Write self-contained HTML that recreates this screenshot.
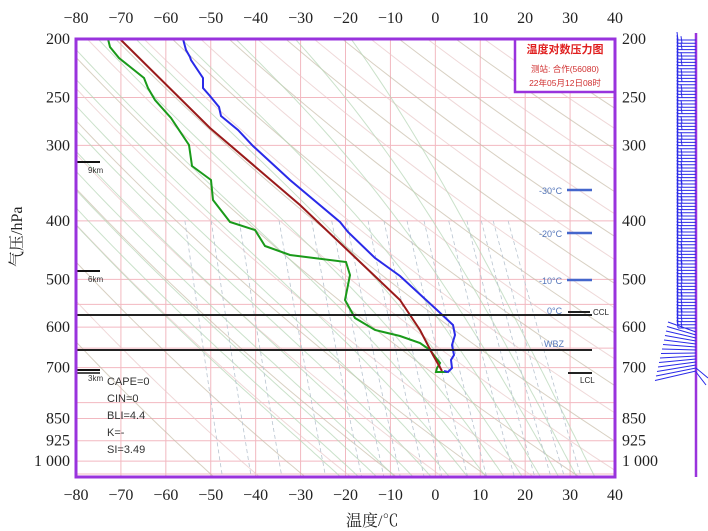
<!DOCTYPE html>
<html><head><meta charset="utf-8"><style>
html,body{margin:0;padding:0;background:#fff;}
svg{display:block;font-family:"Liberation Serif","Noto Serif CJK SC",serif;}
</style></head><body>
<svg id="s" width="708" height="531" viewBox="0 0 708 531" xmlns="http://www.w3.org/2000/svg">
<defs><clipPath id="cp"><rect x="76" y="39" width="539" height="438"/></clipPath></defs>
<rect width="708" height="531" fill="#fff"/>
<g id="grid"></g>
<g id="adi" clip-path="url(#cp)"></g>
<polyline fill="none" stroke="#1a9a1a" stroke-width="2" points="108,39 110,47 119,58 144,78 148,88 155,100 171,118 189,145 192,166 211,180 213,200 230,222 255,230 265,246 290,255 346,262 350,275 345,300 355,318 375,330 400,336 420,343 430,350 436,358 440,363 437,368 436,372 447,372"/>
<polyline fill="none" stroke="#9a1a1a" stroke-width="2" points="120,39 210,128 300,205 360,262 400,300 420,330 433,355 442,371"/>
<polyline fill="none" stroke="#2a2ae8" stroke-width="2" points="183,39 186,50 190,57 191,60 203,78 203,88 210,96 219,107 221,116 238,130 253,146 290,180 340,222 348,232 375,258 400,276 437,310 453,325 455,335 452,345 454,355 451,360 452,368 448,372 444,371"/>
<line x1="76" y1="315" x2="592" y2="315" stroke="#222" stroke-width="2"/>
<line x1="76" y1="350" x2="592" y2="350" stroke="#222" stroke-width="2"/>
<line x1="76" y1="162" x2="100" y2="162" stroke="#111" stroke-width="2"/>
<line x1="76" y1="271" x2="100" y2="271" stroke="#111" stroke-width="2"/>
<line x1="76" y1="370" x2="100" y2="370" stroke="#111" stroke-width="2"/>
<line x1="76" y1="373" x2="100" y2="373" stroke="#111" stroke-width="1.5"/>
<g font-family="Liberation Sans,sans-serif" font-size="8" fill="#333">
<text x="88" y="173">9km</text><text x="88" y="282">6km</text><text x="88" y="381">3km</text>
</g>
<g font-family="Liberation Sans,sans-serif" font-size="11" fill="#333">
<text x="107" y="385">CAPE=0</text><text x="107" y="402">CIN=0</text><text x="107" y="419">BLI=4.4</text><text x="107" y="436">K=-</text><text x="107" y="453">SI=3.49</text>
</g>
<g font-family="Liberation Sans,sans-serif" font-size="9" fill="#5577bb">
<text x="539" y="194">-30°C</text><text x="539" y="237">-20°C</text><text x="539" y="284">-10°C</text><text x="547" y="314">0°C</text><text x="544" y="347">WBZ</text>
</g>
<g stroke-width="2.5" stroke="#4466cc"><line x1="567" y1="190" x2="592" y2="190"/><line x1="567" y1="233" x2="592" y2="233"/><line x1="567" y1="280" x2="592" y2="280"/></g>
<line x1="568" y1="312" x2="590" y2="312" stroke="#222" stroke-width="2"/>
<line x1="568" y1="373" x2="592" y2="373" stroke="#222" stroke-width="2"/>
<g font-family="Liberation Sans,sans-serif" font-size="8" fill="#222"><text x="593" y="315">CCL</text><text x="580" y="383">LCL</text></g>
<rect x="515" y="39" width="100" height="53" fill="#fff" stroke="#9933dd" stroke-width="2.5"/>
<text x="565" y="53" text-anchor="middle" font-family="Liberation Sans,Noto Sans CJK SC,sans-serif" font-size="11" font-weight="bold" fill="#e02020">温度对数压力图</text>
<text x="565" y="72" text-anchor="middle" font-family="Liberation Sans,Noto Sans CJK SC,sans-serif" font-size="8.5" fill="#d03030">测站: 合作(56080)</text>
<text x="565" y="86" text-anchor="middle" font-family="Liberation Sans,Noto Sans CJK SC,sans-serif" font-size="8.5" fill="#d03030">22年05月12日08时</text>
<rect x="76" y="39" width="539" height="438" fill="none" stroke="#9933dd" stroke-width="3"/>
<g id="labels" font-size="16" fill="#222"></g>
<text x="10" y="255" font-size="16" fill="#222" transform="rotate(-90 22 255)" font-family="Liberation Serif,Noto Serif CJK SC,serif">气压/hPa</text>
<text x="346" y="526" font-size="16" fill="#222" font-family="Liberation Serif,Noto Serif CJK SC,serif">温度/℃</text>
<line x1="696" y1="33" x2="696" y2="477" stroke="#9933dd" stroke-width="2.5"/>
<g id="barbs" stroke="#2a2ae8" stroke-width="1"></g>
<script>
var NS="http://www.w3.org/2000/svg";
function el(p,t,a){var e=document.createElementNS(NS,t);for(var k in a)e.setAttribute(k,a[k]);document.getElementById(p).appendChild(e);return e;}
function X(T){return 76+(T+80)*4.4917;}
function Y(p){return 39+262.3*Math.log(p/200);}
for(var T=-70;T<=30;T+=10)el("grid","line",{x1:X(T),y1:39,x2:X(T),y2:477,stroke:"#f2b8c0","stroke-width":1});
[250,300,400,500,550,600,650,700,800,850,925,1000,1050].forEach(function(p){el("grid","line",{x1:76,y1:Y(p),x2:615,y2:Y(p),stroke:"#f2b8c0","stroke-width":1});});
for(var th=220;th<=520;th+=10){var pts=[];for(var p=200;p<=1080;p+=20){var t=th*Math.pow(p/1000,0.286)-273.15;pts.push(X(t).toFixed(1)+","+Y(p).toFixed(1));}
el("adi","polyline",{points:pts.join(" "),fill:"none",stroke:(th%20?"#e8c8c8":"#c8bca8"),"stroke-width":1,opacity:0.7});}
function es(t){return 6.112*Math.exp(17.67*t/(t+243.5));}
for(var t0=-20;t0<=36;t0+=4){var t=t0,p=1080,pts=[X(t).toFixed(1)+","+Y(p).toFixed(1)];
 while(p>200){var T=t+273.15,w=0.622*es(t)/(p-es(t));var g=(0.286*T+2.5e6*w/1004)/(1+2.5e6*2.5e6*w*0.622/(1004*287*T*T))/p;t-=g*10;p-=10;pts.push(X(t).toFixed(1)+","+Y(p).toFixed(1));}
 el("adi","polyline",{points:pts.join(" "),fill:"none",stroke:"#b4d4b4","stroke-width":1,opacity:0.7});}
[0.05,0.1,0.2,0.5,1,1.5,2,3,4,6,8,12,16,20,24,30].forEach(function(w){var pts=[];for(var p=400;p<=1080;p+=40){var e=w/1000*p/(0.622+w/1000);var l=Math.log(e/6.112);var t=243.5*l/(17.67-l);pts.push(X(t).toFixed(1)+","+Y(p).toFixed(1));}
 el("adi","polyline",{points:pts.join(" "),fill:"none",stroke:"#b8c4d0","stroke-width":0.8,"stroke-dasharray":"4,3"});});
for(var T=-80;T<=40;T+=10){[23,500].forEach(function(y){var e=el("labels","text",{x:X(T),y:y,"text-anchor":"middle"});e.textContent=(T<0?"\u2212":"")+Math.abs(T);});}
[[200,"200"],[250,"250"],[300,"300"],[400,"400"],[500,"500"],[600,"600"],[700,"700"],[850,"850"],[925,"925"],[1000,"1 000"]].forEach(function(a){var y=Y(a[0])+5;
 var e=el("labels","text",{x:70,y:y,"text-anchor":"end"});e.textContent=a[1];
 var f=el("labels","text",{x:622,y:y});f.textContent=a[1];});
for(var y=40;y<=330;y+=3.2){el("barbs","line",{x1:678,y1:y,x2:696,y2:y});el("barbs","line",{x1:678,y1:y,x2:677,y2:y-8});if((y|0)%2)el("barbs","line",{x1:682,y1:y,x2:681,y2:y-7});}
for(var i=0;i<14;i++){var y=332+i*3;el("barbs","line",{x1:696,y1:y,x2:668-i,y2:y-10+i*1.5});}
el("barbs","line",{x1:696,y1:372,x2:706,y2:385});el("barbs","line",{x1:696,y1:368,x2:708,y2:378});
</script>
</svg>
</body></html>
